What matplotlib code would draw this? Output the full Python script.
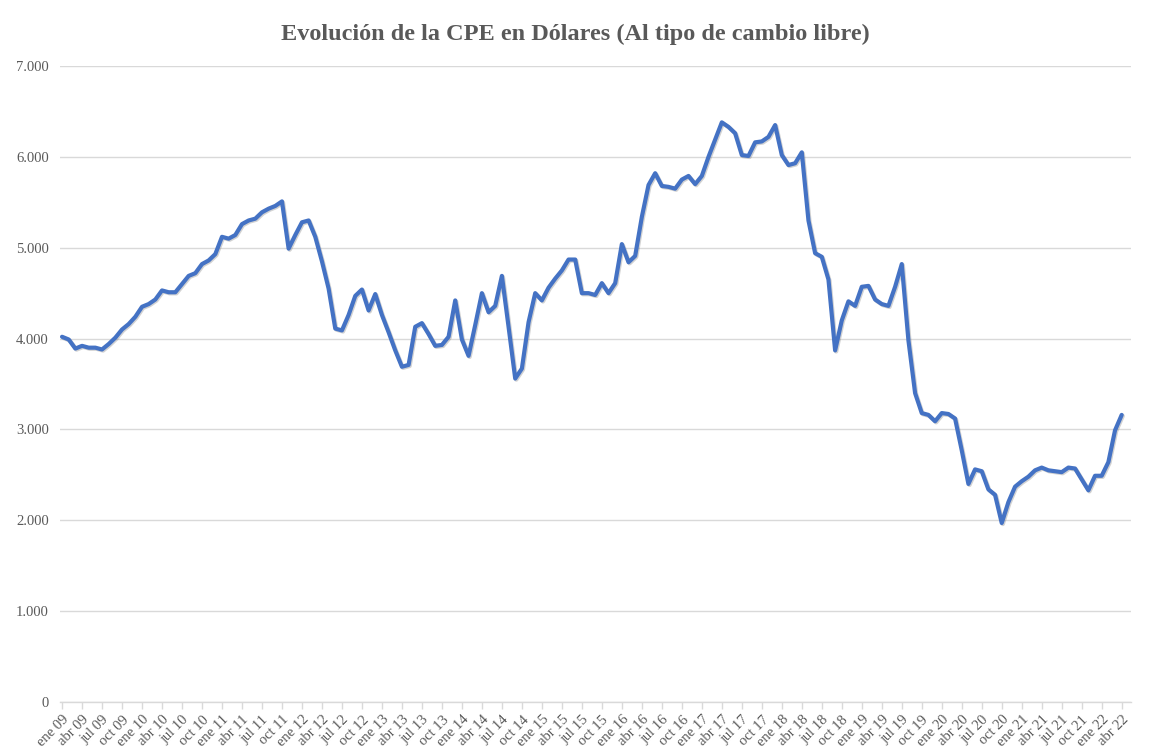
from matplotlib import pyplot as plt
from matplotlib import patheffects as pe
from matplotlib.ticker import FuncFormatter

# CPE monthly values in USD, ene 09 .. abr 22
months = ['ene', 'feb', 'mar', 'abr', 'may', 'jun', 'jul', 'ago', 'sep', 'oct', 'nov', 'dic']
years = list(range(9, 23))
cpe = [
    4020, 3990, 3890, 3920, 3900, 3900, 3880, 3940, 4010, 4100, 4160, 4240,  # 2009
    4350, 4380, 4430, 4530, 4510, 4510, 4600, 4690, 4720, 4820, 4860, 4930,  # 2010
    5120, 5100, 5140, 5260, 5300, 5320, 5390, 5430, 5460, 5510, 4990, 5140,  # 2011
    5280, 5300, 5120, 4850, 4550, 4110, 4090, 4260, 4470, 4540, 4310, 4490,  # 2012
    4260, 4070, 3870, 3690, 3710, 4130, 4170, 4050, 3920, 3930, 4020, 4420,  # 2013
    3990, 3810, 4150, 4500, 4290, 4360, 4690, 4130, 3560, 3670, 4180, 4500,  # 2014
    4420, 4560, 4660, 4750, 4870, 4870, 4500, 4500, 4480, 4610, 4500, 4610,  # 2015
    5040, 4840, 4910, 5340, 5690, 5820, 5680, 5670, 5650, 5750, 5790, 5700,  # 2016
    5790, 6000, 6190, 6380, 6330, 6260, 6020, 6010, 6160, 6170, 6220, 6350,  # 2017
    6020, 5910, 5930, 6050, 5300, 4940, 4900, 4650, 3870, 4200, 4410, 4360,  # 2018
    4570, 4580, 4430, 4380, 4360, 4570, 4820, 3980, 3400, 3180, 3160, 3090,  # 2019
    3180, 3170, 3120, 2770, 2400, 2560, 2540, 2340, 2280, 1970, 2200, 2370,  # 2020
    2430, 2480, 2550, 2580, 2550, 2540, 2530, 2580, 2570, 2450, 2330, 2490,  # 2021
    2490, 2640, 2990, 3160,                                                  # 2022
]
labels = [f'{m} {y:02d}' for y in years for m in months][:len(cpe)]
y_ticks = [0, 1000, 2000, 3000, 4000, 5000, 6000, 7000]

plt.rcParams['font.family'] = ['Liberation Serif', 'DejaVu Serif']
grey = '#595959'

fig = plt.figure(figsize=(11.5, 7.52), dpi=100)
ax = fig.add_axes([0.0522, 0.0665, 0.9313, 0.8457])

x = list(range(len(cpe)))
ax.plot(x, cpe, color='#4472C4', lw=3.0, solid_joinstyle='round', solid_capstyle='round',
        path_effects=[pe.SimpleLineShadow(offset=(0.8, -0.8), shadow_color='#7f7f7f', alpha=0.35),
                      pe.Normal()])

ax.set_ylim(0, 7000)
ax.set_xlim(-0.3, 160.4)
ax.set_yticks(y_ticks)
ax.yaxis.set_major_formatter(FuncFormatter(lambda v, p: f'{int(v):,}'.replace(',', '.')))
ax.tick_params(axis='y', length=0, pad=8, labelsize=10.5, labelcolor=grey)

ticks = x[::3]
ax.set_xticks(ticks)
ax.set_xticklabels(labels[::3], rotation=45, ha='right', rotation_mode='anchor')
ax.tick_params(axis='x', length=5, width=1, color='#d9d9d9', pad=3, labelsize=10.5, labelcolor=grey)

ax.grid(axis='y', color='#d9d9d9', lw=1)
ax.set_axisbelow(True)
for s in ['left', 'right', 'top']:
    ax.spines[s].set_visible(False)
ax.spines['bottom'].set_color('#d9d9d9')
ax.spines['bottom'].set_linewidth(1)

fig.suptitle('Evolución de la CPE en Dólares (Al tipo de cambio libre)', y=0.968,
             fontsize=17.5, fontweight='bold', color=grey)

fig.savefig('out.png')
